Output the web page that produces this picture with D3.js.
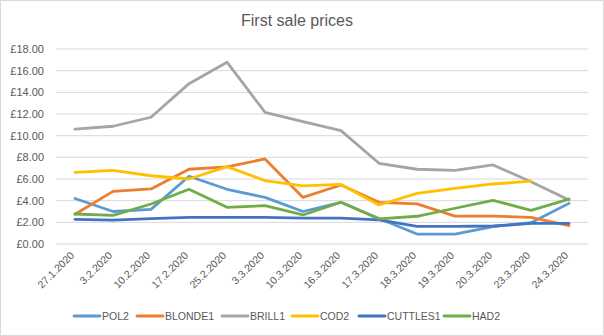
<!DOCTYPE html>
<html><head><meta charset="utf-8">
<script src="https://cdn.jsdelivr.net/npm/d3@7"></script>
<style>body{margin:0;background:#fff}svg{display:block}text{font-family:"Liberation Sans",Arial,sans-serif;fill:#595959}</style>
</head><body><svg id="c" width="604" height="336"></svg>
<script>
const categories=["27.1.2020","3.2.2020","10.2.2020","17.2.2020","25.2.2020","3.3.2020","10.3.2020","16.3.2020","17.3.2020","18.3.2020","19.3.2020","20.3.2020","23.3.2020","24.3.2020"];
const seriesNames=["POL2","BLONDE1","BRILL1","COD2","CUTTLES1","HAD2"];
const pol2=[4.2,3.0,3.2,6.25,5.05,4.3,3.0,3.85,2.35,0.92,0.92,1.6,1.97,3.75];
const blonde1=[2.75,4.86,5.08,6.9,7.12,7.85,4.3,5.45,3.85,3.7,2.58,2.58,2.45,1.7];
const brill1=[10.6,10.87,11.7,14.8,16.78,12.16,11.3,10.46,7.45,6.9,6.8,7.3,5.75,4.06];
const cod2=[6.62,6.8,6.3,6.0,7.14,5.85,5.36,5.5,3.6,4.68,5.14,5.54,5.8,null];
const cuttles1=[2.28,2.2,2.34,2.46,2.46,2.46,2.38,2.38,2.22,1.63,1.63,1.66,1.9,1.9];
const had2=[2.77,2.65,3.69,5.05,3.39,3.54,2.68,3.85,2.31,2.56,3.3,4.03,3.11,4.15];
const yTicks=[0,2,4,6,8,10,12,14,16,18];
const colors=["#5B9BD5","#ED7D31","#A5A5A5","#FFC000","#4472C4","#70AD47"];
const values=[pol2,blonde1,brill1,cod2,cuttles1,had2];

const svg=d3.select("#c");
svg.append("rect").attr("x",0.5).attr("y",0.5).attr("width",603).attr("height",335).attr("fill","#fff").attr("stroke","#d9d9d9");
svg.append("text").attr("x",297).attr("y",26).attr("text-anchor","middle").style("font-size","16px").text("First sale prices");

const x=d3.scaleBand().domain(categories).range([56,588]);
const y=d3.scaleLinear().domain([0,18]).range([244,49]);

const g=svg.append("g");
g.selectAll("line.grid").data(yTicks).join("line").attr("class","grid")
 .attr("x1",56).attr("x2",588).attr("y1",d=>y(d)).attr("y2",d=>y(d)).attr("stroke","#d9d9d9").attr("stroke-width",1);

const yAxis=g.append("g").attr("transform","translate(56,0)").call(d3.axisLeft(y).tickValues(yTicks).tickSize(0).tickPadding(12).tickFormat(d=>"£"+d3.format(".2f")(d)));
yAxis.select(".domain").remove();
yAxis.selectAll("text").style("font-size","11px").style("fill","#595959").style("font-family","Liberation Sans, Arial, sans-serif");

const xAxis=g.append("g").attr("transform","translate(0,244)").call(d3.axisBottom(x).tickSize(0).tickPadding(0));
xAxis.select(".domain").remove();
xAxis.selectAll("text").style("font-size","10.5px").style("fill","#595959").style("font-family","Liberation Sans, Arial, sans-serif")
 .attr("text-anchor","end").attr("dy",null).attr("y",0)
 .attr("transform","translate(0,12) rotate(-45)");

const line=d3.line().defined(d=>d!=null).x((d,i)=>x(categories[i])+x.bandwidth()/2).y(d=>y(d));
values.forEach((v,k)=>{
  g.append("path").datum(v).attr("d",line).attr("fill","none").attr("stroke",colors[k]).attr("stroke-width",2.8).attr("stroke-linejoin","round").attr("stroke-linecap","round");
});

const legendX=[74,137,222,292,359,444];
const lg=svg.append("g");
seriesNames.forEach((n,k)=>{
  lg.append("line").attr("x1",legendX[k]).attr("x2",legendX[k]+26).attr("y1",316).attr("y2",316).attr("stroke",colors[k]).attr("stroke-width",2.8).attr("stroke-linecap","round");
  lg.append("text").attr("x",legendX[k]+28).attr("y",320).style("font-size","10.5px").text(n);
});
</script></body></html>
